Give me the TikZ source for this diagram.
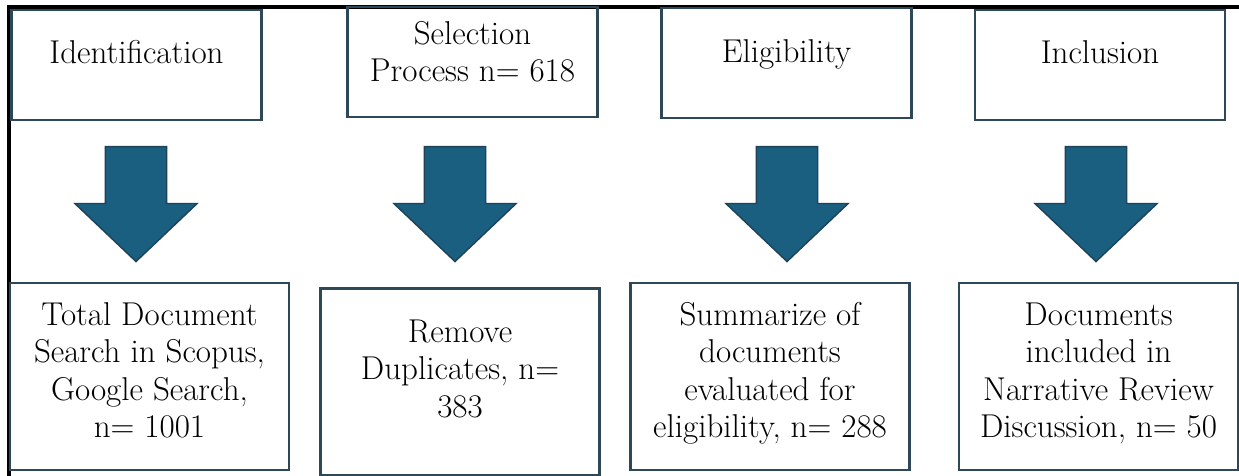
\documentclass[tikz,border=0pt]{standalone}
\usepackage{fontspec}
\usetikzlibrary{shapes.arrows}

\definecolor{boxline}{HTML}{2F4858}
\definecolor{arrowfill}{HTML}{1A5E80}
\definecolor{arrowline}{HTML}{1E4257}

\tikzset{
  topbox/.style={draw=boxline, line width=1.5pt, minimum width=5cm, minimum height=2.2cm, inner sep=0pt},
  bottombox/.style={draw=boxline, line width=1.5pt, minimum width=5.58cm, minimum height=3.74cm, inner sep=0pt},
  boxtext/.style={anchor=north, inner sep=0pt, align=center, font=\fontsize{18.8}{21.3}\selectfont},
  downarrow/.style={single arrow, draw=arrowline, fill=arrowfill, line width=0.8pt, minimum height=2.3cm, inner xsep=0pt, inner ysep=0.6cm, single arrow head extend=0.61cm, single arrow tip angle=93, rotate=-90},
  frameline/.style={draw=black, line width=2pt}
}

\begin{document}
\begin{tikzpicture}[x=0.02cm, y=-0.02cm]
\useasboundingbox (0,0) rectangle (1239,476);

% Outer frame, top and left side only
\draw[frameline] (9,476) -- (9,7) -- (1239,7);

% Stage boxes in the top row
\node[topbox] (ident) at (136.5,65) {};
\node[boxtext] (identtxt) at (ident.north |- 0,36.75) {\strut Identification};
\node[topbox] (select) at (472.5,62) {};
\node[boxtext] (selecttxt) at (select.north |- 0,17.75) {\strut Selection\\\strut Process n= 618};
\node[topbox] (elig) at (786.5,63) {};
\node[boxtext] (eligtxt) at (elig.north |- 0,35.75) {\strut Eligibility};
\node[topbox] (incl) at (1100,65) {};
\node[boxtext] (incltxt) at (incl.north |- 0,36.75) {\strut Inclusion};

% Block arrows between the rows
\node[downarrow] (identarrow) at (136,189.5) {};
\node[downarrow] (selectarrow) at (455,189.5) {};
\node[downarrow] (eligarrow) at (787,189.5) {};
\node[downarrow] (inclarrow) at (1096,189.5) {};

% Result boxes in the bottom row
\node[bottombox] (total) at (149.5,376.5) {};
\node[boxtext] (totaltxt) at (total.north |- 0,298.75) {\strut Total Document\\\strut Search in Scopus,\\\strut Google Search,\\\strut n= 1001};
\node[bottombox] (dupl) at (460,382) {};
\node[boxtext] (dupltxt) at (dupl.north |- 0,315.75) {\strut Remove\\\strut Duplicates, n=\\\strut 383};
\node[bottombox] (summ) at (770,376.5) {};
\node[boxtext] (summtxt) at (summ.north |- 0,298.75) {\strut Summarize of\\\strut documents\\\strut evaluated for\\\strut eligibility, n= 288};
\node[bottombox] (docs) at (1098.5,376.5) {};
\node[boxtext] (docstxt) at (docs.north |- 0,298.75) {\strut Documents\\\strut included in\\\strut Narrative Review\\\strut Discussion, n= 50};
\end{tikzpicture}
\end{document}
